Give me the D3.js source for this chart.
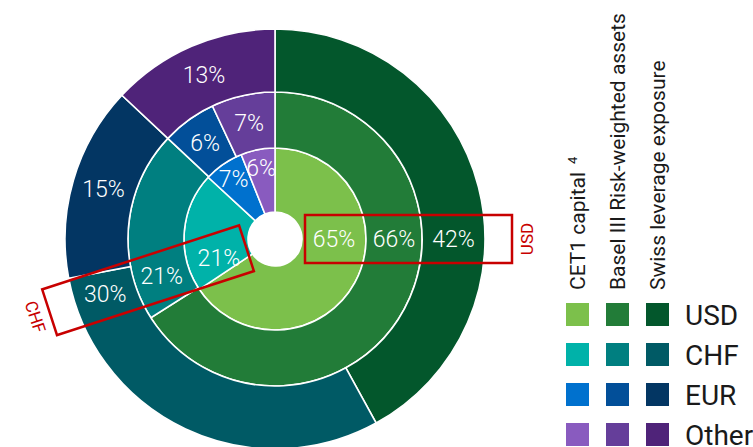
<!DOCTYPE html>
<html>
<head>
<meta charset="utf-8">
<script src="https://cdn.jsdelivr.net/npm/d3@7"></script>
<style>
  html, body { margin: 0; padding: 0; background: #fff; }
  svg { display: block; font-family: Roboto, "Liberation Sans", Arial, sans-serif; }
</style>
</head>
<body>
<div id="chart"></div>
<script>
// Data
const currencies = ["USD", "CHF", "EUR", "Other"];
const rings = ["CET1 capital", "Basel III Risk-weighted assets", "Swiss leverage exposure"];
const cet1Values = [65, 21, 7, 6];
const rwaValues = [66, 21, 6, 7];
const lrdValues = [42, 30, 15, 13];
const highlighted = ["USD", "CHF"];

// Colours: one row per currency, inner -> outer
const colors = {
    USD: ["#7cc04b", "#227c38", "#03572c"],
    CHF: ["#00b2a9", "#007f80", "#005a65"],
    EUR: ["#0071ce", "#024f99", "#033663"],
    Other: ["#895bbf", "#653e9a", "#4f2379"]
};

const width = 753;
const height = 447;
const cx = 275, cy = 239;
const radii = [27, 91, 147, 210];

const svg = d3.select("#chart").append("svg")
    .attr("width", width)
    .attr("height", height);

const g = svg.append("g").attr("transform", `translate(${cx},${cy})`);

const pie = d3.pie().sort(null).value(d => d.value);
const arc = d3.arc();

// Fixed label directions for highlighted currencies (degrees clockwise from top)
const labelAngle = { USD: 90, CHF: 252 };

[cet1Values, rwaValues, lrdValues].forEach((values, ring) => {
    const data = currencies.map((c, i) => ({ key: c, value: values[i] }));
    const total = d3.sum(values);
    const arcs = pie(data);
    const r0 = radii[ring], r1 = radii[ring + 1];

    g.selectAll(`.slice-${ring}`)
        .data(arcs)
        .enter().append("path")
        .attr("class", `slice-${ring}`)
        .attr("d", d => arc({ innerRadius: r0, outerRadius: r1, startAngle: d.startAngle, endAngle: d.endAngle }))
        .attr("fill", d => colors[d.data.key][ring])
        .attr("stroke", "#fff")
        .attr("stroke-width", 1.6);

    g.selectAll(`.label-${ring}`)
        .data(arcs)
        .enter().append("text")
        .attr("class", `label-${ring}`)
        .attr("transform", d => {
            let a = labelAngle[d.data.key] !== undefined
                ? labelAngle[d.data.key] * Math.PI / 180
                : (d.startAngle + d.endAngle) / 2;
            let r = (r0 + r1) / 2;
            if (ring === 0 && d.value / total < 0.1) r = r0 + 0.72 * (r1 - r0);
            return `translate(${r * Math.sin(a)},${-r * Math.cos(a)})`;
        })
        .attr("text-anchor", "middle")
        .attr("dy", "0.36em")
        .attr("fill", "#fff")
        .style("font-size", "23px")
        .style("font-weight", 300)
        .text(d => d.value + "%");
});

// Hole
g.append("circle").attr("r", radii[0]).attr("fill", "#fff");

// Highlight boxes along label directions
highlighted.forEach(key => {
    const box = g.append("g")
        .attr("transform", `rotate(${labelAngle[key] - 90})`);
    box.append("rect")
        .attr("x", 30)
        .attr("y", -24)
        .attr("width", 207)
        .attr("height", 48)
        .attr("fill", "none")
        .attr("stroke", "#c80000")
        .attr("stroke-width", 2.5);
    box.append("text")
        .attr("transform", "translate(252,0) rotate(-90)")
        .attr("text-anchor", "middle")
        .attr("dy", "0.36em")
        .attr("fill", "#c80000")
        .style("font-size", "17px")
        .text(key);
});

// Legend
const legend = svg.append("g");
const colX = d3.scalePoint().domain([0, 1, 2]).range([566, 646]);
const rowY = d3.scalePoint().domain(currencies).range([303, 423]);
const sq = 23;

legend.selectAll(".header")
    .data(rings)
    .enter().append("text")
    .attr("class", "header")
    .attr("transform", (d, i) => `translate(${colX(i) + sq / 2 + 7},290) rotate(-90)`)
    .attr("fill", "#1a1a1a")
    .style("font-size", "21px")
    .each(function(d, i) {
        d3.select(this).append("tspan").text(d);
        if (i === 0) {
            d3.select(this).append("tspan")
                .attr("dx", 8)
                .attr("dy", -8)
                .style("font-size", "13px")
                .text("4");
        }
    });

currencies.forEach(c => {
    [0, 1, 2].forEach(ring => {
        legend.append("rect")
            .attr("x", colX(ring))
            .attr("y", rowY(c))
            .attr("width", sq)
            .attr("height", sq)
            .attr("fill", colors[c][ring]);
    });
    legend.append("text")
        .attr("x", 685)
        .attr("y", rowY(c) + sq / 2)
        .attr("dy", "0.36em")
        .attr("fill", "#1a1a1a")
        .style("font-size", "28px")
        .text(c);
});
</script>
</body>
</html>
